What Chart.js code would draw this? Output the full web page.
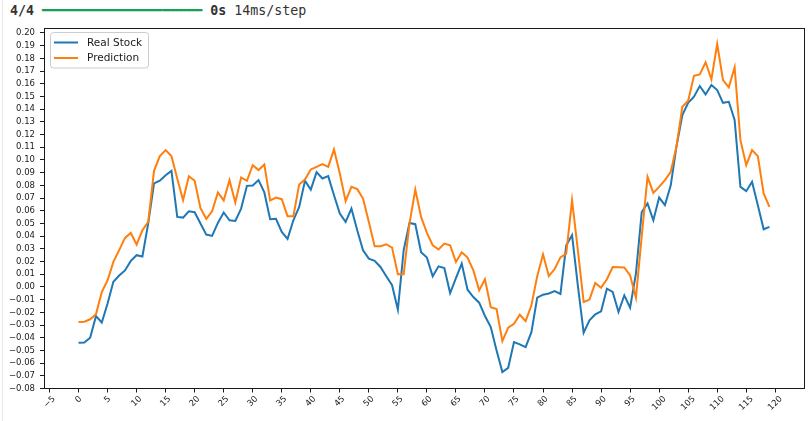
<!DOCTYPE html>
<html>
<head>
<meta charset="utf-8">
<script src="https://cdn.jsdelivr.net/npm/chart.js@4.4.1/dist/chart.umd.min.js"></script>
<style>
  html, body { margin: 0; padding: 0; background: #fff; }
  #wrap { position: relative; width: 811px; height: 421px; overflow: hidden; }
  #edge { position: absolute; left: 2px; top: 0; width: 1px; height: 421px; background: #e6e6e6; }
  #progress {
    position: absolute; left: 10px; top: 1px;
    font-family: 'DejaVu Sans Mono', monospace; font-size: 13.3px; line-height: 20px;
    color: #333; white-space: pre;
  }
  #progress .bar { color: #14a050; }
  canvas { position: absolute; left: 0; top: 0; }
</style>
</head>
<body>
<div id="wrap">
  <div id="edge"></div>
  <div id="progress"><b>4/4</b> <span class="bar">━━━━━━━━━━━━━━━━━━━━</span> <b>0s</b> 14ms/step</div>
  <canvas id="stockChart" width="811" height="421"></canvas>
</div>
<script>
// values, one per day index 0..119
const realStock = [
  -0.044, -0.0437, -0.040, -0.023, -0.028, -0.013, 0.004, 0.009, 0.013, 0.0205,
  0.025, 0.024, 0.050, 0.0815, 0.0836, 0.088, 0.0914, 0.0551, 0.0546, 0.0596,
  0.0588, 0.050, 0.0412, 0.0402, 0.0504, 0.0586, 0.0525, 0.052, 0.0617, 0.0796,
  0.0799, 0.0841, 0.0744, 0.0533, 0.0536, 0.0433, 0.0378, 0.0525, 0.063, 0.0836,
  0.0766, 0.0904, 0.0854, 0.0872, 0.0722, 0.0578, 0.0512, 0.0617, 0.0446, 0.0289,
  0.0223, 0.0205, 0.0157, 0.0084, 0.0013, -0.0179, 0.0289, 0.0504, 0.0494, 0.0273,
  0.0231, 0.0084, 0.0162, 0.0149, -0.0048, 0.007, 0.0184, -0.0022, -0.008, -0.0124,
  -0.0229, -0.0316, -0.050, -0.0671, -0.0637, -0.0435, -0.0453, -0.0474, -0.0356, -0.0085,
  -0.0061, -0.0052, -0.0033, -0.0055, 0.0328, 0.0407, 0.001, -0.036, -0.0263, -0.0216,
  -0.0192, -0.0014, -0.004, -0.0198, -0.0066, -0.0163, 0.0105, 0.059, 0.0657, 0.0525,
  0.0704, 0.0644, 0.080, 0.111, 0.1353, 0.145, 0.1498, 0.1582, 0.1516, 0.159,
  0.155, 0.145, 0.1458, 0.1314, 0.0788, 0.0754, 0.0828, 0.0644, 0.0454, 0.0473
];
const prediction = [
  -0.0277, -0.0274, -0.0255, -0.0216, -0.004, 0.0052, 0.0197, 0.029, 0.0386, 0.0425,
  0.0334, 0.0446, 0.0512, 0.0914, 0.103, 0.1077, 0.103, 0.0854, 0.0683, 0.0872,
  0.0836, 0.062, 0.0536, 0.0596, 0.0744, 0.0681, 0.0841, 0.0665, 0.0862, 0.0836,
  0.0959, 0.092, 0.0964, 0.0681, 0.0704, 0.0691, 0.0557, 0.0557, 0.0807, 0.0846,
  0.0925, 0.0946, 0.0967, 0.0946, 0.1083, 0.0893, 0.0675, 0.0788, 0.077, 0.0696,
  0.0512, 0.032, 0.032, 0.0336, 0.031, 0.010, 0.010, 0.0499, 0.0767, 0.0551,
  0.0425, 0.0328, 0.0295, 0.0341, 0.0328, 0.0197, 0.0273, 0.0231, 0.013, -0.0027,
  0.006, -0.0159, -0.0174, -0.0427, -0.0321, -0.029, -0.0219, -0.0269, -0.0145, 0.0084,
  0.0257, 0.0085, 0.0141, 0.0233, 0.0262, 0.0683, 0.0289, -0.0119, -0.010, 0.0031,
  -0.0006, 0.006, 0.0157, 0.0155, 0.0153, 0.0091, -0.0085, 0.040, 0.0867, 0.074,
  0.0788, 0.0841, 0.0907, 0.111, 0.1419, 0.1466, 0.1663, 0.1674, 0.1769, 0.1635,
  0.1913, 0.1629, 0.1572, 0.173, 0.1156, 0.0959, 0.1077, 0.103, 0.0736, 0.063
];
const seriesNames = ['Real Stock', 'Prediction'];
const seriesColors = ['#1f77b4', '#ff7f0e'];

const xTicks = [-5, 0, 5, 10, 15, 20, 25, 30, 35, 40, 45, 50, 55, 60, 65,
  70, 75, 80, 85, 90, 95, 100, 105, 110, 115, 120];
const yTicks = [-0.08, -0.07, -0.06, -0.05, -0.04, -0.03, -0.02, -0.01, 0.00,
  0.01, 0.02, 0.03, 0.04, 0.05, 0.06, 0.07, 0.08, 0.09, 0.10, 0.11, 0.12,
  0.13, 0.14, 0.15, 0.16, 0.17, 0.18, 0.19, 0.20];
const xRange = [-5.95, 124.95];
const yRange = [-0.080, 0.2039];

const MINUS = '\u2212';
const fmtY = v => (v < -1e-9 ? MINUS : '') + Math.abs(v).toFixed(2);
const fmtX = v => (v < 0 ? MINUS : '') + Math.abs(v);
const INK = '#1a1a1a';

// frame, rotated x labels and the legend box, matplotlib style
const mplExtras = {
  id: 'mplExtras',
  afterDraw(chart) {
    const { ctx, chartArea: a, scales: { x } } = chart;
    ctx.save();

    ctx.strokeStyle = INK;
    ctx.lineWidth = 1;
    const L = Math.floor(a.left) + 0.5, T = Math.floor(a.top) + 0.5;
    const R = Math.floor(a.right) + 0.5, B = Math.floor(a.bottom) + 0.5;
    ctx.strokeRect(L, T, R - L, B - T);

    ctx.font = '8.5px "DejaVu Sans"';
    ctx.fillStyle = INK;
    ctx.textAlign = 'center';
    ctx.textBaseline = 'middle';
    x.ticks.forEach(t => {
      const label = fmtX(t.value);
      const w = ctx.measureText(label).width;
      const half = (w + 10) / (2 * Math.SQRT2);
      ctx.save();
      ctx.translate(x.getPixelForValue(t.value), a.bottom + 5.5 + half);
      ctx.rotate(-Math.PI / 4);
      ctx.fillText(label, 0, 0);
      ctx.restore();
    });

    // legend
    const bx = 50.5, by = 32.5, bw = 98, bh = 35.5;
    ctx.beginPath();
    ctx.roundRect(bx, by, bw, bh, 3);
    ctx.fillStyle = 'rgba(255,255,255,0.8)';
    ctx.fill();
    ctx.strokeStyle = '#cccccc';
    ctx.stroke();
    ctx.font = '10.5px "DejaVu Sans"';
    ctx.textAlign = 'left';
    chart.data.datasets.forEach((ds, i) => {
      const ly = 42.5 + i * 15.5;
      ctx.strokeStyle = ds.borderColor;
      ctx.lineWidth = 2;
      ctx.beginPath();
      ctx.moveTo(54, ly);
      ctx.lineTo(78, ly);
      ctx.stroke();
      ctx.fillStyle = INK;
      ctx.fillText(ds.label, 87, ly + 0.5);
    });
    ctx.restore();
  }
};

const ctx = document.getElementById('stockChart').getContext('2d');
new Chart(ctx, {
  type: 'line',
  data: {
    datasets: [
      {
        label: seriesNames[0],
        data: realStock.map((v, i) => ({ x: i, y: v })),
        borderColor: seriesColors[0],
        borderWidth: 2,
        pointRadius: 0,
        fill: false,
        order: 2
      },
      {
        label: seriesNames[1],
        data: prediction.map((v, i) => ({ x: i, y: v })),
        borderColor: seriesColors[1],
        borderWidth: 2,
        pointRadius: 0,
        fill: false,
        order: 1
      }
    ]
  },
  options: {
    responsive: false,
    animation: false,
    devicePixelRatio: 1,
    layout: { padding: { top: 28, right: 7, left: 0, bottom: 0 } },
    plugins: { legend: { display: false }, tooltip: { enabled: false } },
    scales: {
      x: {
        type: 'linear',
        min: xRange[0],
        max: xRange[1],
        afterBuildTicks: s => { s.ticks = xTicks.map(v => ({ value: v })); },
        afterFit: s => { s.height = 32.5; },
        grid: { drawOnChartArea: false, drawTicks: true, tickLength: 4, color: INK },
        border: { display: false },
        ticks: { display: false, autoSkip: false }
      },
      y: {
        min: yRange[0],
        max: yRange[1],
        afterBuildTicks: s => { s.ticks = yTicks.map(v => ({ value: v })); },
        afterFit: s => { s.width = 44; },
        grid: { drawOnChartArea: false, drawTicks: true, tickLength: 4, color: INK },
        border: { display: false },
        ticks: {
          autoSkip: false,
          color: INK,
          padding: 5,
          font: { family: 'DejaVu Sans', size: 8.5 },
          callback: v => fmtY(v)
        }
      }
    }
  },
  plugins: [mplExtras]
});
</script>
</body>
</html>
